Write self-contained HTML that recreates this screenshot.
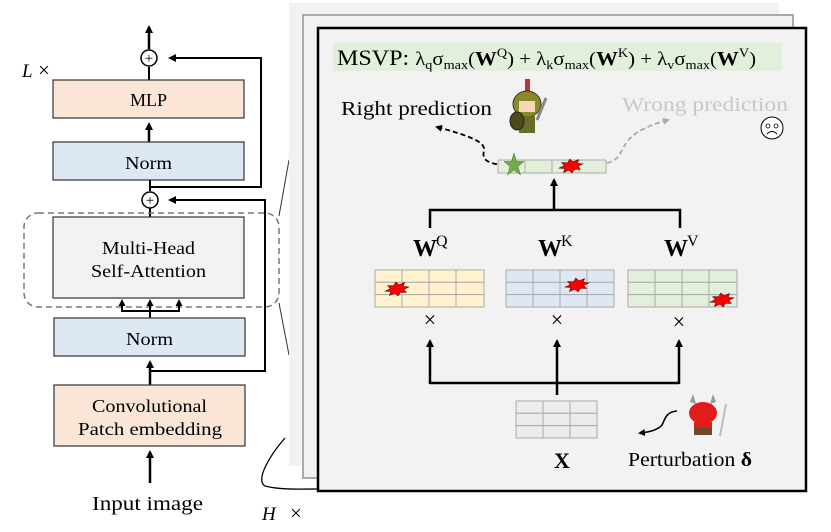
<!DOCTYPE html>
<html><head><meta charset="utf-8"><style>
html,body{margin:0;padding:0;background:#fff;}
svg{display:block;font-family:"Liberation Serif",serif;}
</style></head><body>
<svg width="831" height="532" viewBox="0 0 831 532" xmlns="http://www.w3.org/2000/svg">
<defs>
<marker id="ah" markerWidth="8" markerHeight="8" refX="6" refY="4" orient="auto" markerUnits="userSpaceOnUse"><path d="M0,0 L8,4 L0,8 z" fill="#000"/></marker>
<marker id="ahs" markerWidth="7" markerHeight="7" refX="5" refY="3.5" orient="auto" markerUnits="userSpaceOnUse"><path d="M0,0 L7,3.5 L0,7 z" fill="#000"/></marker>
<marker id="ahg" markerWidth="7" markerHeight="7" refX="5" refY="3.5" orient="auto" markerUnits="userSpaceOnUse"><path d="M0,0 L7,3.5 L0,7 z" fill="#aaa"/></marker>
<polygon id="burst" points="12,0 6.5,1.5 8.5,5 2.7,3.7 0,7 -2.7,3.7 -8.5,5 -6.5,1.5 -12,0 -6.5,-1.5 -8.5,-5 -2.7,-3.7 0,-7 2.7,-3.7 8.5,-5 6.5,-1.5" fill="#f00" stroke="#600" stroke-width="0.6"/>
</defs>

<!-- left stack -->
<text x="22" y="77" font-size="19" font-style="italic">L</text><text x="38" y="77" font-size="21">×</text>
<line x1="149" y1="49" x2="149" y2="27" stroke="#000" stroke-width="2.5" marker-end="url(#ah)"/>
<circle cx="149" cy="58" r="8" fill="#fff" stroke="#000" stroke-width="1.5"/>
<text x="149" y="63" font-size="15" text-anchor="middle">+</text>
<line x1="149" y1="80" x2="149" y2="67" stroke="#000" stroke-width="2"/>
<rect x="53" y="80" width="191" height="38" fill="#fae5d6" stroke="#333" stroke-width="1.2"/>
<text x="148.5" y="106" font-size="18" text-anchor="middle">MLP</text>
<line x1="149" y1="142" x2="149" y2="124" stroke="#000" stroke-width="2.5" marker-end="url(#ah)"/>
<rect x="53" y="142" width="191" height="38" fill="#dde8f4" stroke="#333" stroke-width="1.2"/>
<text x="125" y="169" font-size="18" textLength="47" lengthAdjust="spacingAndGlyphs">Norm</text>
<line x1="150" y1="180" x2="150" y2="191" stroke="#000" stroke-width="2"/>
<polyline points="150,187 261,187 261,58 170,58" fill="none" stroke="#000" stroke-width="2" marker-end="url(#ah)"/>
<circle cx="150" cy="200" r="8" fill="#fff" stroke="#000" stroke-width="1.5"/>
<text x="150" y="205" font-size="15" text-anchor="middle">+</text>
<line x1="150" y1="208" x2="150" y2="217" stroke="#000" stroke-width="2"/>
<polyline points="150,371 265,371 265,200 170,200" fill="none" stroke="#000" stroke-width="2" marker-end="url(#ah)"/>
<rect x="24" y="213" width="255" height="94" rx="14" fill="none" stroke="#777" stroke-width="1.5" stroke-dasharray="6,4"/>
<rect x="53" y="217" width="191" height="81" fill="#f2f2f2" stroke="#333" stroke-width="1.2"/>
<text x="102" y="254" font-size="18" textLength="93" lengthAdjust="spacingAndGlyphs">Multi-Head</text>
<text x="91" y="277" font-size="18" textLength="115" lengthAdjust="spacingAndGlyphs">Self-Attention</text>
<polyline points="122,304 122,311 179,311 179,304" fill="none" stroke="#000" stroke-width="2"/>
<line x1="122" y1="311" x2="122" y2="301" stroke="#000" stroke-width="2" marker-end="url(#ahs)"/>
<line x1="179" y1="311" x2="179" y2="301" stroke="#000" stroke-width="2" marker-end="url(#ahs)"/>
<line x1="150" y1="318" x2="150" y2="301" stroke="#000" stroke-width="2" marker-end="url(#ahs)"/>
<rect x="54" y="318" width="191" height="38" fill="#dde8f4" stroke="#333" stroke-width="1.2"/>
<text x="126" y="345" font-size="18" textLength="47" lengthAdjust="spacingAndGlyphs">Norm</text>
<line x1="150" y1="385" x2="150" y2="362" stroke="#000" stroke-width="2.5" marker-end="url(#ah)"/>
<rect x="54" y="385" width="191" height="61" fill="#fae5d6" stroke="#333" stroke-width="1.2"/>
<text x="92" y="412" font-size="18" textLength="115" lengthAdjust="spacingAndGlyphs">Convolutional</text>
<text x="78" y="435" font-size="18" textLength="144" lengthAdjust="spacingAndGlyphs">Patch embedding</text>
<line x1="150" y1="483" x2="150" y2="452" stroke="#000" stroke-width="2.5" marker-end="url(#ah)"/>
<text x="92" y="510" font-size="20" textLength="111" lengthAdjust="spacingAndGlyphs">Input image</text>
<text x="262" y="520" font-size="19" font-style="italic">H</text><text x="290" y="520" font-size="21">×</text>

<!-- connection lines -->
<line x1="279" y1="216" x2="289" y2="160" stroke="#333" stroke-width="1"/>
<line x1="279" y1="303" x2="289" y2="355" stroke="#333" stroke-width="1"/>
<path d="M285,438 C270,455 255,480 265,486 C280,490 300,489 318,489" fill="none" stroke="#000" stroke-width="1.3"/>

<!-- panels -->
<rect x="289" y="3" width="490" height="463" fill="#f2f2f2"/>
<rect x="303" y="15" width="490" height="463" fill="#f2f2f2" stroke="#aaa" stroke-width="2"/>
<rect x="318" y="28" width="488" height="463" fill="#f2f2f2" stroke="#000" stroke-width="2.5"/>

<rect x="333" y="43" width="449" height="28" fill="#e2efda"/>
<text x="337" y="65" font-size="22" textLength="419" lengthAdjust="spacingAndGlyphs">MSVP: <tspan font-size="19">λ<tspan font-size="13" dy="4">q</tspan><tspan dy="-4">σ</tspan><tspan font-size="13" dy="4">max</tspan><tspan dy="-4">(</tspan><tspan font-weight="bold" font-size="20">W</tspan><tspan font-size="13" dy="-8">Q</tspan><tspan dy="8">) + λ</tspan><tspan font-size="13" dy="4">k</tspan><tspan dy="-4">σ</tspan><tspan font-size="13" dy="4">max</tspan><tspan dy="-4">(</tspan><tspan font-weight="bold" font-size="20">W</tspan><tspan font-size="13" dy="-8">K</tspan><tspan dy="8">) + λ</tspan><tspan font-size="13" dy="4">v</tspan><tspan dy="-4">σ</tspan><tspan font-size="13" dy="4">max</tspan><tspan dy="-4">(</tspan><tspan font-weight="bold" font-size="20">W</tspan><tspan font-size="13" dy="-8">V</tspan><tspan dy="8">)</tspan></tspan></text>

<text x="341" y="115" font-size="20" textLength="151" lengthAdjust="spacingAndGlyphs">Right prediction</text>
<text x="622" y="111" font-size="20" fill="#c8c8c8" textLength="166" lengthAdjust="spacingAndGlyphs">Wrong prediction</text>
<circle cx="772" cy="128" r="11" fill="#fff" stroke="#000" stroke-width="1"/>
<circle cx="768" cy="126" r="2" fill="none" stroke="#000" stroke-width="0.8"/><circle cx="776" cy="126" r="2" fill="none" stroke="#000" stroke-width="0.8"/>
<path d="M767,134 Q772,129 777,134" fill="none" stroke="#000" stroke-width="1"/>

<!-- warrior -->
<g>
<rect x="525" y="79" width="5" height="14" fill="#b33"/>
<ellipse cx="527" cy="104" rx="14" ry="13" fill="#8a8a2a" stroke="#333"/>
<rect x="519" y="101" width="16" height="11" fill="#f6d7b8"/>
<rect x="519" y="116" width="16" height="17" fill="#6b6b2a"/>
<ellipse cx="517" cy="121" rx="7" ry="9" fill="#4a4a1a" stroke="#222"/>
<line x1="537" y1="120" x2="546" y2="98" stroke="#888" stroke-width="3"/>
</g>

<path d="M505,165 C485,164 482,158 484,151 C486,142 470,136 437,127" fill="none" stroke="#000" stroke-width="1.8" stroke-dasharray="5,3" marker-end="url(#ahs)"/>
<path d="M607,163 C620,160 620,152 625,145 C630,135 645,126 668,120" fill="none" stroke="#aaa" stroke-width="1.8" stroke-dasharray="5,3" marker-end="url(#ahg)"/>

<g stroke="#aaa" stroke-width="1" fill="#e2efda">
<rect x="498" y="160" width="27" height="13"/><rect x="525" y="160" width="27" height="13"/><rect x="552" y="160" width="27" height="13"/><rect x="579" y="160" width="27" height="13"/>
</g>
<polygon points="514,153 516.6,161.5 524,161.5 518,166.5 520.5,175 514,170 507.5,175 510,166.5 504,161.5 511.4,161.5" fill="#70ad47" stroke="#4a7a2a" stroke-width="0.5"/>
<use href="#burst" transform="translate(571,166) rotate(-10)"/>

<!-- upper tree -->
<line x1="554" y1="210" x2="554" y2="180" stroke="#000" stroke-width="2.5" marker-end="url(#ah)"/>
<polyline points="430,228 430,210 680,210 680,228" fill="none" stroke="#000" stroke-width="2.5"/>
<text x="413" y="256" font-size="24" font-weight="bold">W</text><text x="436" y="246" font-size="16">Q</text>
<text x="538" y="256" font-size="24" font-weight="bold">W</text><text x="561" y="246" font-size="16">K</text>
<text x="664" y="256" font-size="24" font-weight="bold">W</text><text x="687" y="246" font-size="16">V</text>

<g stroke="#aaa" stroke-width="1">
<g fill="#fff2cc">
<rect x="375" y="270" width="27" height="12.3"/><rect x="402" y="270" width="27" height="12.3"/><rect x="429" y="270" width="27" height="12.3"/><rect x="456" y="270" width="28" height="12.3"/>
<rect x="375" y="282.3" width="27" height="12.3"/><rect x="402" y="282.3" width="27" height="12.3"/><rect x="429" y="282.3" width="27" height="12.3"/><rect x="456" y="282.3" width="28" height="12.3"/>
<rect x="375" y="294.6" width="27" height="12.4"/><rect x="402" y="294.6" width="27" height="12.4"/><rect x="429" y="294.6" width="27" height="12.4"/><rect x="456" y="294.6" width="28" height="12.4"/>
</g>
<g fill="#dde8f4">
<rect x="506" y="270" width="27" height="12.3"/><rect x="533" y="270" width="27" height="12.3"/><rect x="560" y="270" width="27" height="12.3"/><rect x="587" y="270" width="27" height="12.3"/>
<rect x="506" y="282.3" width="27" height="12.3"/><rect x="533" y="282.3" width="27" height="12.3"/><rect x="560" y="282.3" width="27" height="12.3"/><rect x="587" y="282.3" width="27" height="12.3"/>
<rect x="506" y="294.6" width="27" height="12.4"/><rect x="533" y="294.6" width="27" height="12.4"/><rect x="560" y="294.6" width="27" height="12.4"/><rect x="587" y="294.6" width="27" height="12.4"/>
</g>
<g fill="#e2efda">
<rect x="628" y="270" width="27" height="12.3"/><rect x="655" y="270" width="27" height="12.3"/><rect x="682" y="270" width="27" height="12.3"/><rect x="709" y="270" width="28" height="12.3"/>
<rect x="628" y="282.3" width="27" height="12.3"/><rect x="655" y="282.3" width="27" height="12.3"/><rect x="682" y="282.3" width="27" height="12.3"/><rect x="709" y="282.3" width="28" height="12.3"/>
<rect x="628" y="294.6" width="27" height="12.4"/><rect x="655" y="294.6" width="27" height="12.4"/><rect x="682" y="294.6" width="27" height="12.4"/><rect x="709" y="294.6" width="28" height="12.4"/>
</g>
</g>
<use href="#burst" transform="translate(397,289) rotate(-10)"/>
<use href="#burst" transform="translate(577,285) rotate(-10)"/>
<use href="#burst" transform="translate(722,300) rotate(-10)"/>

<text x="430" y="327" font-size="22" text-anchor="middle">×</text>
<text x="557" y="327" font-size="22" text-anchor="middle">×</text>
<text x="679" y="329" font-size="22" text-anchor="middle">×</text>

<polyline points="430,383 679,383" fill="none" stroke="#000" stroke-width="2.5"/>
<line x1="430" y1="384" x2="430" y2="341" stroke="#000" stroke-width="2.5" marker-end="url(#ah)"/>
<line x1="557" y1="395" x2="557" y2="341" stroke="#000" stroke-width="2.5" marker-end="url(#ah)"/>
<line x1="679" y1="384" x2="679" y2="341" stroke="#000" stroke-width="2.5" marker-end="url(#ah)"/>

<g stroke="#aaa" stroke-width="1" fill="#ececec">
<rect x="516" y="401" width="27" height="12.3"/><rect x="543" y="401" width="27" height="12.3"/><rect x="570" y="401" width="27" height="12.3"/>
<rect x="516" y="413.3" width="27" height="12.3"/><rect x="543" y="413.3" width="27" height="12.3"/><rect x="570" y="413.3" width="27" height="12.3"/>
<rect x="516" y="425.6" width="27" height="12.4"/><rect x="543" y="425.6" width="27" height="12.4"/><rect x="570" y="425.6" width="27" height="12.4"/>
</g>
<text x="562" y="468" font-size="22" font-weight="bold" text-anchor="middle">X</text>

<path d="M677,411 C665,412 665,420 662,425 C658,430 650,432 640,433" fill="none" stroke="#000" stroke-width="1.6" marker-end="url(#ahs)"/>
<!-- devil -->
<g>
<polygon points="690,402 693,394 696,404" fill="#999"/><polygon points="710,404 713,394 716,402" fill="#999"/>
<ellipse cx="703" cy="413" rx="14" ry="11" fill="#e21b1b"/>
<rect x="694" y="422" width="18" height="12" fill="#e21b1b"/>
<rect x="694" y="428" width="18" height="7" fill="#6b4a2a"/>
<line x1="720" y1="436" x2="726" y2="404" stroke="#bbb" stroke-width="2"/>
</g>
<text x="628" y="466" font-size="20" textLength="124" lengthAdjust="spacingAndGlyphs">Perturbation <tspan font-weight="bold">δ</tspan></text>
</svg>
</body></html>
